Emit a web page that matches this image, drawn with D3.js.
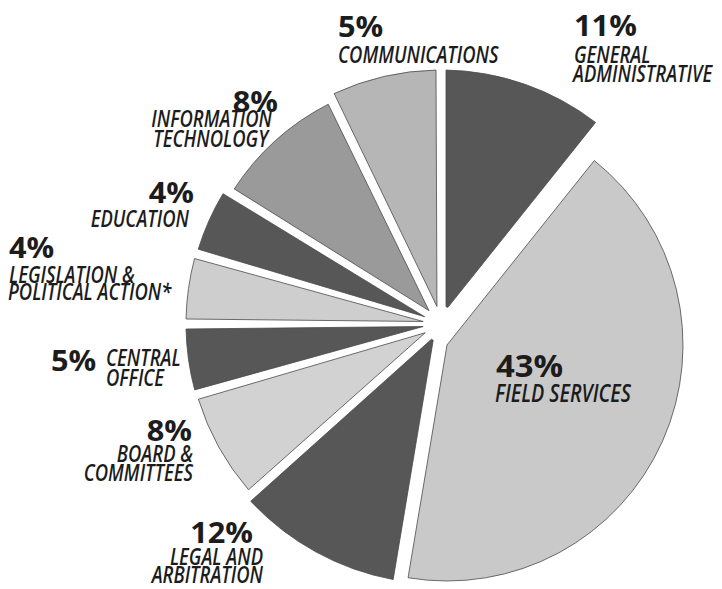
<!DOCTYPE html>
<html>
<head>
<meta charset="utf-8">
<script src="https://cdnjs.cloudflare.com/ajax/libs/d3/7.8.5/d3.min.js"></script>
<style>
  body { margin: 0; background: #fff; }
  .pct { font-family: "Open Sans", sans-serif; font-weight: 700; font-size: 29px; fill: #1c1c1c; }
  .name { font-family: "Open Sans", sans-serif; font-style: italic; font-weight: 600; font-size: 23px; fill: #1c1c1c; }
  .slice { stroke: #4a4a4a; stroke-width: 0.8; }
</style>
</head>
<body>
<div id="chart"></div>
<script>
// data, clockwise from 12 o'clock
var categories = ["General Administrative", "Field Services", "Legal and Arbitration", "Board & Committees",
    "Central Office", "Legislation & Political Action*", "Education", "Information Technology", "Communications"];
var percents = [11, 43, 12, 8, 5, 4, 4, 8, 5];
var nameLines = [
    ["GENERAL", "ADMINISTRATIVE"],
    ["FIELD SERVICES"],
    ["LEGAL AND", "ARBITRATION"],
    ["BOARD &", "COMMITTEES"],
    ["CENTRAL", "OFFICE"],
    ["LEGISLATION &", "POLITICAL ACTION*"],
    ["EDUCATION"],
    ["INFORMATION", "TECHNOLOGY"],
    ["COMMUNICATIONS"]
];

// styles / layout
var fills = ["#575757", "#c9c9c9", "#575757", "#d2d2d2", "#575757", "#cecece", "#575757", "#9a9a9a", "#b6b6b6"];
var outerRadii = [254, 236, 260, 254, 255, 255, 254, 247, 254];
var labelLayout = [
    {anchor: "start", size: 1,    pct: [574, 36],  lines: [[574, 63], [573, 82]]},
    {anchor: "start", size: 1.07, pct: [496, 377], lines: [[495, 402]]},
    {anchor: "end",   size: 1,    pct: [253, 543], lines: [[263, 565], [263, 583]]},
    {anchor: "end",   size: 1,    pct: [192, 441], lines: [[193, 462], [193, 481]]},
    {anchor: "start", size: 1,    pct: [51, 371],  lines: [[106, 366], [106, 386]]},
    {anchor: "start", size: 1,    pct: [9, 258],   lines: [[9, 283], [8, 300]]},
    {anchor: "end",   size: 1,    pct: [194, 203], lines: [[189, 227]]},
    {anchor: "end",   size: 1,    pct: [278, 112], lines: [[272, 127], [268, 147]]},
    {anchor: "start", size: 1,    pct: [338, 37],  lines: [[338, 63]]}
];

var width = 722, height = 589;
var cx = 441, cy = 324;

var svg = d3.select("#chart")
    .append("svg")
    .attr("width", width)
    .attr("height", height);

// the printed pie isn't drawn to scale: right side is squeezed, left side stretched
var angle = d3.scaleLinear()
    .domain([0, 54, 79, 95, 100])
    .range([0, 189.5, 270, 334, 360].map(function(d) { return d * Math.PI / 180; }));

var pie = d3.pie().sort(null).value(function(d) { return d; });
var slices = pie(percents).map(function(p) {
    return {
        index: p.index,
        startAngle: angle(p.startAngle / (2 * Math.PI) * 100),
        endAngle: angle(p.endAngle / (2 * Math.PI) * 100)
    };
});

var arc = d3.arc()
    .innerRadius(18)
    .outerRadius(function(d) { return outerRadii[d.index]; })
    .padAngle(0.04)
    .padRadius(250);

// field services is pulled out, no padding of its own
var bigArc = d3.arc()
    .innerRadius(0)
    .outerRadius(function(d) { return outerRadii[d.index]; });

var pieG = svg.append("g")
    .attr("transform", "translate(" + cx + "," + cy + ")");

pieG.selectAll(".slice")
    .data(slices)
    .enter().append("path")
    .attr("class", "slice")
    .attr("fill", function(d) { return fills[d.index]; })
    .attr("transform", function(d) { return d.index == 1 ? "translate(6,21)" : null; })
    .attr("d", function(d) { return d.index == 1 ? bigArc(d) : arc(d); });

// labels
var labels = svg.append("g");

labelLayout.forEach(function(l, i) {
    labels.append("text")
        .attr("class", "pct")
        .attr("text-anchor", l.anchor)
        .attr("transform", "translate(" + l.pct[0] + "," + l.pct[1] + ") scale(" + (1.06 * l.size) + "," + l.size + ")")
        .text(percents[i] + "%");

    nameLines[i].forEach(function(line, j) {
        labels.append("text")
            .attr("class", "name")
            .attr("text-anchor", l.anchor)
            .attr("transform", "translate(" + l.lines[j][0] + "," + l.lines[j][1] + ") scale(" + (0.8 * l.size) + "," + l.size + ")")
            .text(line);
    });
});
</script>
</body>
</html>
